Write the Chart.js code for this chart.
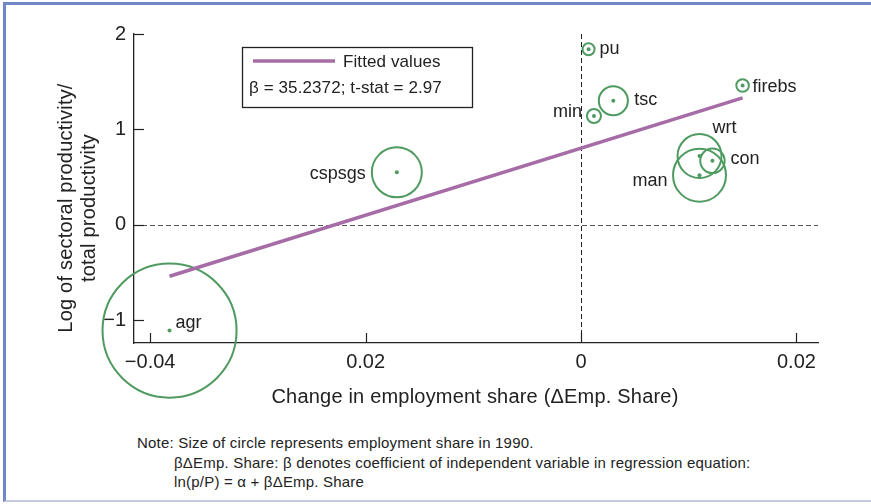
<!DOCTYPE html>
<html>
<head>
<meta charset="utf-8">
<script src="https://cdn.jsdelivr.net/npm/chart.js@4.4.1/dist/chart.umd.min.js"></script>
<style>
  html, body { margin: 0; padding: 0; background: #fff; }
  body { width: 871px; height: 504px; position: relative; overflow: hidden; }
  .frame {
    position: absolute; left: 3px; top: 2px; right: -4px; bottom: 2px;
    border-left: 3px solid #7088c8; border-top: 3px solid #7088c8;
    border-bottom: 2px solid #c3cadf;
  }
  #chart { position: absolute; left: 0; top: 0; }
  .note {
    position: absolute; font-family: "Liberation Sans", Arial, sans-serif;
    font-size: 15px; color: #222; white-space: nowrap; line-height: 19px;
    letter-spacing: 0.2px;
  }
</style>
</head>
<body>
<div class="frame"></div>
<canvas id="chart" width="871" height="420"></canvas>
<div class="note" style="left:137px; top:433px;">Note: Size of circle represents employment share in 1990.</div>
<div class="note" style="left:174px; top:453px;">βΔEmp. Share: β denotes coefficient of independent variable in regression equation:</div>
<div class="note" style="left:174px; top:472px;">ln(p/P) = α + βΔEmp. Share</div>
<script>
// Data
const sectors = ['agr', 'cspsgs', 'pu', 'min', 'tsc', 'firebs', 'wrt', 'con', 'man'];
const empShareChange = [-0.0382, -0.0171, 0.0007, 0.0012, 0.0030, 0.0150, 0.0110, 0.0122, 0.0110];
const logRelProductivity = [-1.11, 0.55, 1.84, 1.14, 1.30, 1.46, 0.72, 0.67, 0.52];
const empShare1990 = [0.66, 0.092, 0.0053, 0.0072, 0.031, 0.0058, 0.071, 0.022, 0.103];

const fittedX = [-0.0382, 0.0150];
const fittedY = [-0.54, 1.33];

const xTicks = [-0.04, -0.02, 0, 0.02];
const xTickLabels = ['\u22120.04', '0.02', '0', '0.02'];
const yTicks = [-1, 0, 1, 2];
const yTickLabels = ['\u22121', '0', '1', '2'];

const FONT = '"Liberation Sans", Arial, sans-serif';
const GREEN = '#4f9a60';
const PURPLE = '#a56ca6';
const INK = '#222';
const RADIUS_SCALE = 82.5; // px per sqrt(share)

// label placement around each dot: [dx, dy, align]
const labelPlacement = {
    agr: [6, -3, 'left'],
    cspsgs: [-31, 7, 'right'],
    pu: [11, 5, 'left'],
    min: [-12, 1, 'right'],
    tsc: [21, 4, 'left'],
    firebs: [10, 6, 'left'],
    wrt: [13, -23, 'left'],
    con: [18, 3, 'left'],
    man: [-32, 11, 'right']
};

const points = sectors.map((s, i) => ({ x: empShareChange[i], y: logRelProductivity[i] }));

const decorations = {
    id: 'decorations',
    beforeDatasetsDraw(chart) {
        const { ctx, chartArea, scales: { x, y } } = chart;
        ctx.save();
        ctx.lineWidth = 1;
        ctx.setLineDash([5, 3]);
        // y = 0 reference
        ctx.strokeStyle = '#555';
        const y0 = Math.round(y.getPixelForValue(0)) + 0.5;
        ctx.beginPath();
        ctx.moveTo(chartArea.left, y0);
        ctx.lineTo(chartArea.right, y0);
        ctx.stroke();
        // x = 0 reference
        ctx.strokeStyle = '#222';
        const x0 = Math.round(x.getPixelForValue(0)) + 0.5;
        ctx.beginPath();
        ctx.moveTo(x0, chartArea.top);
        ctx.lineTo(x0, chartArea.bottom);
        ctx.stroke();
        ctx.setLineDash([]);

        // inward tick marks
        ctx.strokeStyle = INK;
        ctx.lineWidth = 1.2;
        xTicks.forEach(v => {
            const px = Math.round(x.getPixelForValue(v)) + 0.5;
            ctx.beginPath();
            ctx.moveTo(px, chartArea.bottom);
            ctx.lineTo(px, chartArea.bottom - 10);
            ctx.stroke();
        });
        yTicks.forEach(v => {
            const py = Math.round(y.getPixelForValue(v)) + 0.5;
            ctx.beginPath();
            ctx.moveTo(chartArea.left, py);
            ctx.lineTo(chartArea.left + 10, py);
            ctx.stroke();
        });
        ctx.restore();
    },
    afterDraw(chart) {
        const { ctx, chartArea, scales: { x, y } } = chart;
        ctx.save();
        ctx.fillStyle = INK;

        // point labels
        ctx.font = '18px ' + FONT;
        ctx.textBaseline = 'alphabetic';
        sectors.forEach((s, i) => {
            const [dx, dy, align] = labelPlacement[s];
            ctx.textAlign = align;
            ctx.fillText(s, x.getPixelForValue(empShareChange[i]) + dx, y.getPixelForValue(logRelProductivity[i]) + dy);
        });

        // axis titles
        ctx.font = '20px ' + FONT;
        ctx.letterSpacing = '0.2px';
        ctx.textAlign = 'center';
        ctx.textBaseline = 'middle';
        ctx.fillText('Change in employment share (\u0394Emp. Share)', (chartArea.left + chartArea.right) / 2 - 1, 397);
        ctx.save();
        ctx.translate(66, 208);
        ctx.rotate(-Math.PI / 2);
        ctx.fillText('Log of sectoral productivity/', 0, 0);
        ctx.fillText('total productivity', 0, 23);
        ctx.restore();

        // legend box
        const bx = chartArea.left + 108, by = chartArea.top + 13;
        ctx.strokeStyle = INK;
        ctx.lineWidth = 1.3;
        ctx.strokeRect(bx + 0.5, by + 0.5, 230, 60);
        ctx.strokeStyle = PURPLE;
        ctx.lineWidth = 3.5;
        ctx.beginPath();
        ctx.moveTo(bx + 11, by + 14);
        ctx.lineTo(bx + 93, by + 14);
        ctx.stroke();
        ctx.font = '17px ' + FONT;
        ctx.letterSpacing = '0.1px';
        ctx.textAlign = 'left';
        ctx.fillText('Fitted values', bx + 101, by + 15);
        ctx.fillText('\u03b2 = 35.2372; t-stat = 2.97', bx + 7, by + 41);
        ctx.restore();
    }
};

new Chart(document.getElementById('chart'), {
    data: {
        datasets: [
            {
                type: 'line',
                data: fittedX.map((v, i) => ({ x: v, y: fittedY[i] })),
                borderColor: PURPLE,
                borderWidth: 3.5,
                pointRadius: 0,
                fill: false,
                clip: false
            },
            {
                type: 'scatter',
                data: points,
                pointRadius: 2,
                pointBackgroundColor: GREEN,
                pointBorderWidth: 0,
                clip: false
            },
            {
                type: 'bubble',
                data: points.map((p, i) => ({ x: p.x, y: p.y, r: RADIUS_SCALE * Math.sqrt(empShare1990[i]) })),
                borderColor: GREEN,
                borderWidth: 2,
                backgroundColor: 'rgba(0,0,0,0)',
                clip: false
            }
        ]
    },
    options: {
        responsive: false,
        animation: false,
        devicePixelRatio: 1,
        layout: { autoPadding: false, padding: { left: 0, top: 34, right: 53, bottom: 0 } },
        plugins: {
            legend: { display: false },
            tooltip: { enabled: false }
        },
        scales: {
            x: {
                type: 'linear',
                min: -0.0415,
                max: 0.022,
                afterBuildTicks: scale => { scale.ticks = xTicks.map(v => ({ value: v })); },
                afterFit: scale => { scale.height = 77; },
                grid: { display: false, drawTicks: false },
                border: { color: INK, width: 1.3 },
                ticks: {
                    padding: 7,
                    color: INK,
                    font: { family: FONT, size: 20 },
                    maxRotation: 0,
                    callback: (v, i) => xTickLabels[i]
                }
            },
            y: {
                type: 'linear',
                min: -1.24,
                max: 2,
                afterBuildTicks: scale => { scale.ticks = yTicks.map(v => ({ value: v })); },
                afterFit: scale => { scale.width = 134; },
                grid: { display: false, drawTicks: false },
                border: { color: INK, width: 1.3 },
                ticks: {
                    padding: 8,
                    color: INK,
                    font: { family: FONT, size: 20 },
                    callback: (v, i) => yTickLabels[i]
                }
            }
        }
    },
    plugins: [decorations]
});
</script>
</body>
</html>
